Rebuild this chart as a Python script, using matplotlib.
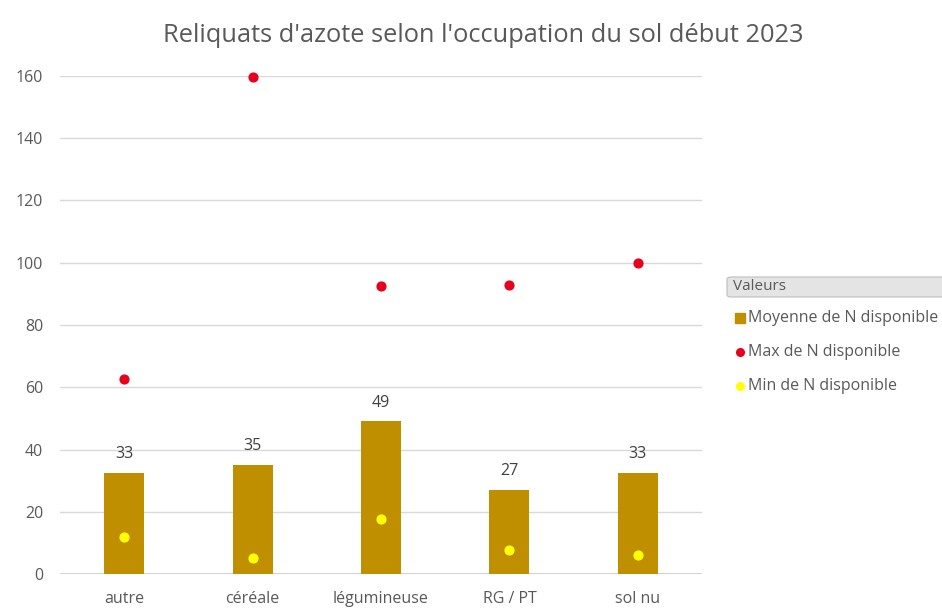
import numpy as np
import matplotlib
matplotlib.use("Agg")
import matplotlib.pyplot as plt
from matplotlib.patches import FancyBboxPatch
from matplotlib.lines import Line2D

categories = ["autre", "céréale", "légumineuse", "RG / PT", "sol nu"]
moyenne = [32.5, 35, 49, 27, 32.5]
moyenne_labels = ["33", "35", "49", "27", "33"]
maximum = [62.7, 159.8, 92.6, 93, 100]
minimum = [11.9, 5.1, 17.7, 7.7, 6.1]
yticks = [0, 20, 40, 60, 80, 100, 120, 140, 160]

GOLD = "#BF8F00"
RED = "#E8001C"
YELLOW = "#FFFF00"
GREY = "#595959"

plt.rcParams["font.family"] = ["Open Sans", "DejaVu Sans"]

fig = plt.figure(figsize=(9.42, 6.14), dpi=100)
ax = fig.add_axes([60 / 942, 1 - 574 / 614, 642 / 942, 498 / 614])

x = np.arange(len(categories))
ax.bar(x, moyenne, width=0.31, color=GOLD, zorder=2)
ax.scatter(x, maximum, s=40, color=RED, zorder=3, clip_on=False)
ax.scatter(x, minimum, s=40, color=YELLOW, zorder=3, clip_on=False)
for xi, v, lab in zip(x, moyenne, moyenne_labels):
    ax.text(xi, v + 3.5, lab, ha="center", va="bottom", fontsize=11.5, color="#404040")

ax.set_xlim(-0.5, len(categories) - 0.5)
ax.set_ylim(0, 160)
ax.set_yticks(yticks)
ax.set_xticks(x)
ax.set_xticklabels(categories)
ax.tick_params(length=0, colors=GREY, labelsize=11.5)
ax.tick_params(axis="y", pad=12)
ax.tick_params(axis="x", pad=12)
ax.grid(axis="y", color="#D9D9D9", linewidth=1, zorder=0)
for s in ax.spines.values():
    s.set_visible(False)
ax.axhline(0, color="#C8C8C8", linewidth=1.2, zorder=1)

fig.text(483 / 942, 1 - 36 / 614, "Reliquats d'azote selon l'occupation du sol début 2023",
         ha="center", va="center", fontsize=18.3, color=GREY)

# legend, drawn by hand to mimic the pivot-chart box
hdr = FancyBboxPatch((727 / 942, 1 - 297 / 614), 230 / 942, 20 / 614,
                     boxstyle="round,pad=0,rounding_size=0.004",
                     transform=fig.transFigure, facecolor="#E4E4E4",
                     edgecolor="#BDBDBD", linewidth=0.8)
fig.add_artist(hdr)
fig.text(733 / 942, 1 - 287 / 614, "Valeurs", ha="left", va="center", fontsize=11, color=GREY)

labels = ["Moyenne de N disponible", "Max de N disponible", "Min de N disponible"]
ys = [318, 352, 386]
fig.add_artist(Line2D([740 / 942], [1 - ys[0] / 614], marker="s", markersize=6.5,
                      color=GOLD, linestyle="none", transform=fig.transFigure))
fig.add_artist(Line2D([740 / 942], [1 - ys[1] / 614], marker="o", markersize=5.5,
                      color=RED, linestyle="none", transform=fig.transFigure))
fig.add_artist(Line2D([740 / 942], [1 - ys[2] / 614], marker="o", markersize=5.5,
                      color=YELLOW, linestyle="none", transform=fig.transFigure))
for y, lab in zip(ys, labels):
    fig.text(748 / 942, 1 - y / 614, lab, ha="left", va="center", fontsize=11.5, color=GREY)

fig.savefig("out.png", dpi=100, facecolor="white")
